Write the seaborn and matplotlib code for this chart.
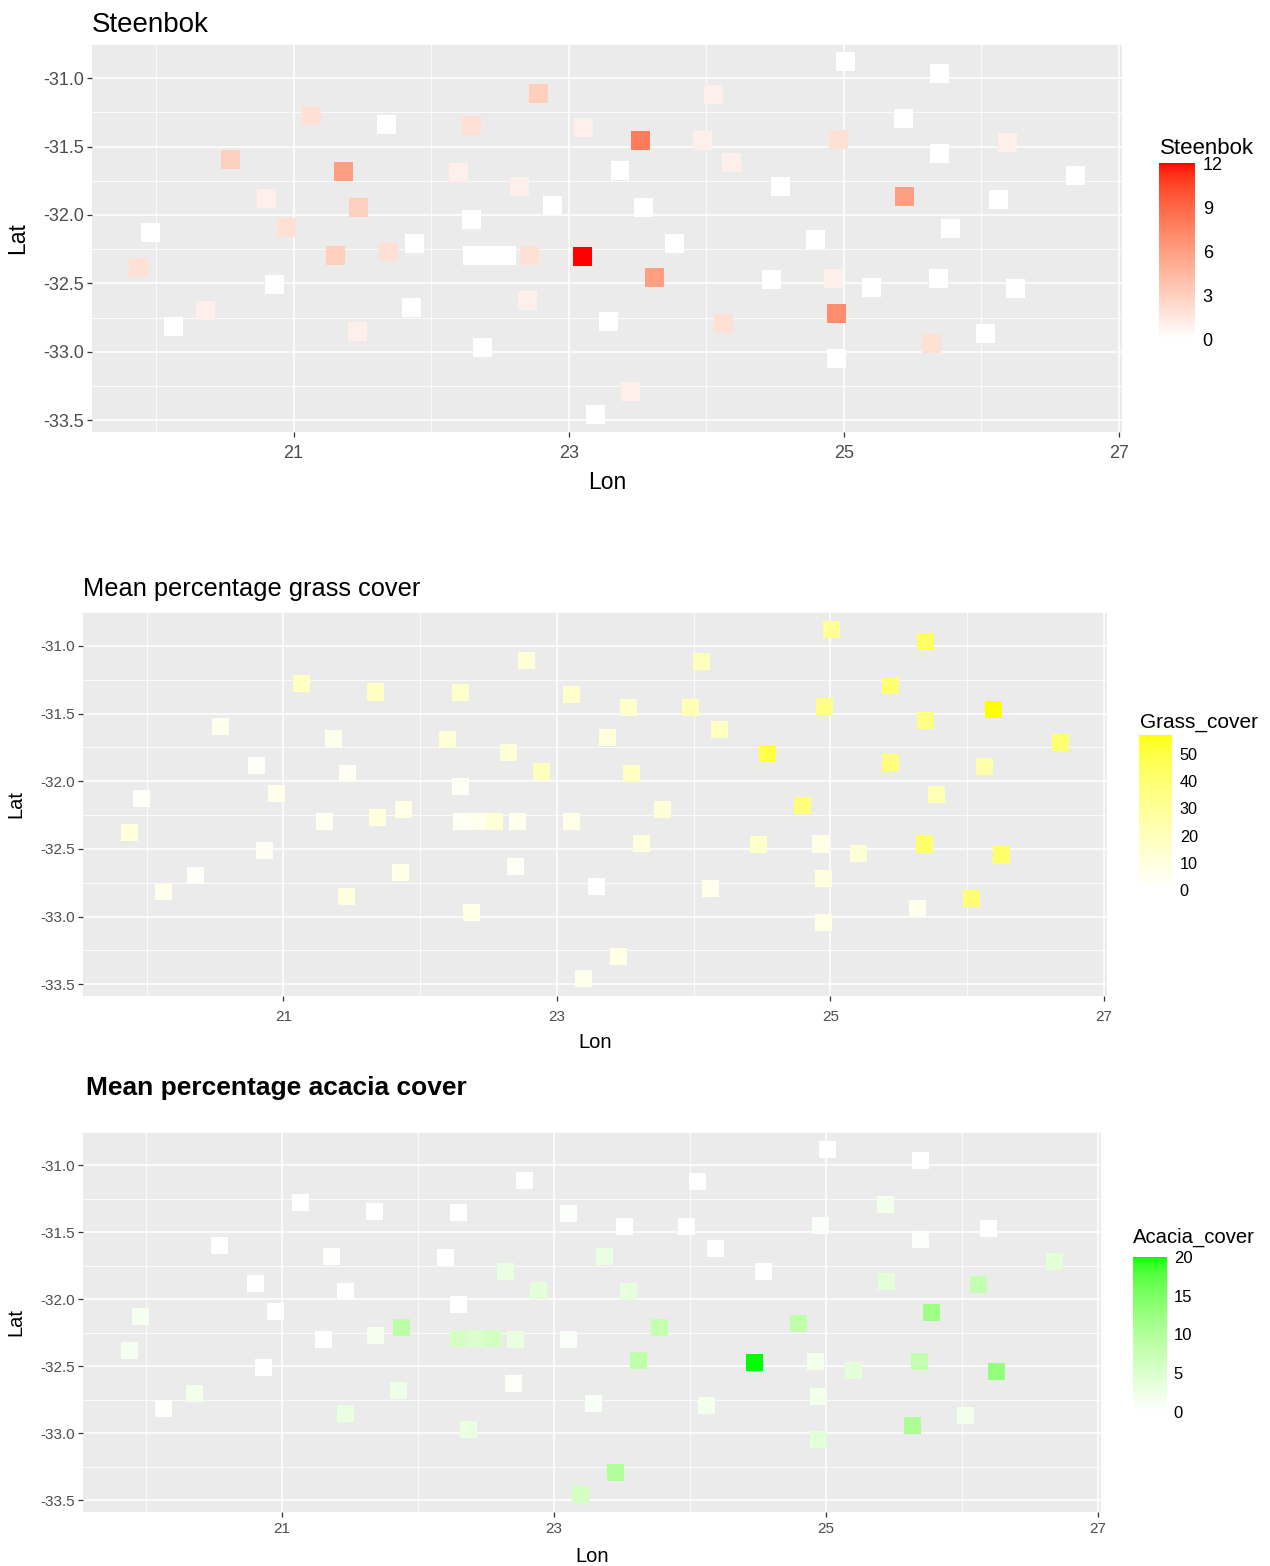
import numpy as np
import pandas as pd
import matplotlib
matplotlib.use("Agg")
import matplotlib.pyplot as plt
from matplotlib.colors import ListedColormap, Normalize
from matplotlib.cm import ScalarMappable
import seaborn as sns

# Survey sites (longitude / latitude) and the values recorded at each one
lon = [21.133, 21.677, 20.540, 21.365, 20.801, 21.469, 19.959, 20.951, 21.302, 21.689,
       21.878, 19.875, 20.864, 20.358, 20.124, 21.858, 21.462,
       22.780, 24.055, 22.294, 23.109, 23.520, 23.975, 22.202, 24.186, 23.373,
       22.644, 24.538, 22.884, 23.544, 22.294, 23.772,
       22.300, 22.430, 22.545, 22.713, 23.104, 23.622, 24.476, 22.700, 23.293,
       24.123, 22.372, 23.450, 23.196,
       25.010, 25.697, 25.436, 24.959, 26.193, 25.697, 26.682, 25.441, 26.123,
       25.777, 24.797, 24.926, 25.204, 25.688, 26.251, 24.948, 26.029, 25.637, 24.948]
lat = [-31.275, -31.341, -31.598, -31.681, -31.883, -31.944, -32.126, -32.092, -32.298, -32.269,
       -32.206, -32.381, -32.510, -32.700, -32.814, -32.678, -32.850,
       -31.109, -31.117, -31.348, -31.360, -31.452, -31.452, -31.689, -31.620, -31.678,
       -31.791, -31.795, -31.931, -31.944, -32.036, -32.206,
       -32.295, -32.295, -32.295, -32.296, -32.301, -32.459, -32.471, -32.629, -32.778,
       -32.790, -32.972, -33.293, -33.458,
       -30.879, -30.966, -31.292, -31.445, -31.470, -31.550, -31.715, -31.864, -31.888,
       -32.099, -32.182, -32.464, -32.532, -32.464, -32.539, -32.721, -32.867, -32.940, -33.047]
steenbok = [2, 0, 3, 6, 1, 3, 0, 2, 3, 2, 0, 2, 0, 1, 0, 0, 1,
            3, 1, 2, 1, 8, 1, 1, 1, 0, 1, 0, 0, 0, 0, 0,
            0, 0, 0, 2, 12, 6, 0, 1, 0, 2, 0, 1, 0,
            0, 0, 0, 2, 1, 0, 0, 6, 0, 0, 0, 1, 0, 0, 0, 7, 0, 2, 0]
grass_cover = [18, 18, 5, 5, 2, 3, 2, 6, 4, 10, 8, 10, 3, 2, 6, 8, 10,
               12, 20, 15, 15, 15, 22, 12, 18, 10, 12, 50, 20, 18, 3, 12,
               3, 5, 12, 5, 8, 10, 15, 3, 0, 5, 8, 8, 5,
               30, 45, 40, 35, 57, 35, 40, 38, 25, 22, 38, 8, 12, 42, 42, 10, 40, 5, 8]
acacia_cover = [0, 0, 0, 0.5, 0, 0, 1.5, 0, 0, 1.5, 9, 1.5, 0, 2, 0.5, 2.5, 3,
                0, 0, 0, 0.3, 0, 0, 0, 0, 3, 3, 0, 4, 3.5, 0, 8,
                6, 5, 6, 3, 1, 8.5, 20, 0.5, 1, 2, 3, 10, 6,
                0, 0, 2, 1, 0, 1, 4, 4, 8, 12, 8.5, 2, 4, 8, 13, 2, 2, 10.5, 4]

x_ticks = [21, 23, 25, 27]
y_ticks = [-33.5, -33.0, -32.5, -32.0, -31.5, -31.0]

df = pd.DataFrame({"Lon": lon, "Lat": lat, "Steenbok": steenbok,
                   "Grass_cover": grass_cover, "Acacia_cover": acacia_cover})

# ---- white -> colour ramps interpolated in CIELAB -------------------------
_M = np.array([[0.4124564, 0.3575761, 0.1804375],
               [0.2126729, 0.7151522, 0.0721750],
               [0.0193339, 0.1191920, 0.9503041]])
_Minv = np.linalg.inv(_M)
_WP = np.array([0.95047, 1.0, 1.08883])
_D = 6 / 29


def srgb_to_lab(c):
    c = np.asarray(c, float)
    lin = np.where(c <= 0.04045, c / 12.92, ((c + 0.055) / 1.055) ** 2.4)
    t = (_M @ lin) / _WP
    f = np.where(t > _D ** 3, np.cbrt(t), t / (3 * _D ** 2) + 4 / 29)
    return np.array([116 * f[1] - 16, 500 * (f[0] - f[1]), 200 * (f[1] - f[2])])


def lab_to_srgb(lab):
    L, a, b = lab[:, 0], lab[:, 1], lab[:, 2]
    fy = (L + 16) / 116
    fx = fy + a / 500
    fz = fy - b / 200

    def finv(f):
        return np.where(f > _D, f ** 3, 3 * _D ** 2 * (f - 4 / 29))

    xyz = np.stack([finv(fx) * _WP[0], finv(fy) * _WP[1], finv(fz) * _WP[2]], axis=1)
    lin = np.clip(xyz @ _Minv.T, 0, 1)
    rgb = np.where(lin <= 0.0031308, 12.92 * lin, 1.055 * lin ** (1 / 2.4) - 0.055)
    return np.clip(rgb, 0, 1)


def lab_gradient(high, n=256):
    lo = srgb_to_lab([1.0, 1.0, 1.0])
    hi = srgb_to_lab(high)
    t = np.linspace(0, 1, n)[:, None]
    return ListedColormap(lab_to_srgb(lo + t * (hi - lo)))


# ---- theme -------------------------------------------------------------
sns.set_theme(style="darkgrid", rc={
    "axes.facecolor": "#EBEBEB",
    "grid.color": "white",
    "axes.edgecolor": "#EBEBEB",
    "axes.unicode_minus": False,
})
plt.rcParams["font.family"] = ["Liberation Sans", "DejaVu Sans"]

W, H = 1270, 1566
fig = plt.figure(figsize=(W / 100, H / 100), dpi=100)


def rect(l, t, r, b):
    return [l / W, 1 - b / H, (r - l) / W, (b - t) / H]


def expand(v, frac=0.05):
    lo, hi = min(v), max(v)
    d = (hi - lo) * frac
    return lo - d, hi + d


xlim = expand(lon)
ylim = expand(lat)

panels = [
    dict(col="Steenbok", high=[1, 0, 0], vmax=12, cticks=[0, 3, 6, 9, 12],
         ax=(92, 44, 1122, 432), cax=(1159, 163, 1195, 339), s=187,
         title="Steenbok", tsize=20, tweight="normal", tpad=8.6, tx=0.0,
         tick=13, xpad=5.5, lab=16.5, ylab_x=-0.0718, xlab_y=-0.1314,
         ltitle_xy=(1160, 154), ltsize=16, llsize=13, lpad=5.5, tlen=5),
    dict(col="Grass_cover", high=[1, 1, 0], vmax=57, cticks=[0, 10, 20, 30, 40, 50],
         ax=(83, 612, 1107, 996), cax=(1139, 735, 1172, 890), s=150,
         title="Mean percentage grass cover", tsize=18.3, tweight="normal", tpad=11.5, tx=0.0,
         tick=11, xpad=6.8, lab=14.5, ylab_x=-0.0654, xlab_y=-0.1198,
         ltitle_xy=(1140, 728), ltsize=15, llsize=11.7, lpad=5.5, tlen=4.8),
    dict(col="Acacia_cover", high=[0, 1, 0], vmax=20, cticks=[0, 5, 10, 15, 20],
         ax=(83, 1132, 1101, 1512), cax=(1133, 1257, 1167, 1412), s=150,
         title="Mean percentage acacia cover", tsize=19, tweight="bold", tpad=26.3, tx=0.003,
         tick=11, xpad=4.0, lab=14.5, ylab_x=-0.0658, xlab_y=-0.1158,
         ltitle_xy=(1133, 1243), ltsize=14.6, llsize=12, lpad=4.8, tlen=4.8),
]

for p in panels:
    ax = fig.add_axes(rect(*p["ax"]))
    cmap = lab_gradient(p["high"])
    norm = Normalize(vmin=0, vmax=p["vmax"])

    sns.scatterplot(data=df, x="Lon", y="Lat", hue=p["col"], palette=cmap,
                    hue_norm=norm, marker="s", s=p["s"], linewidth=0,
                    legend=False, ax=ax, zorder=3)

    ax.set_xlim(*xlim)
    ax.set_ylim(*ylim)
    ax.set_xticks(x_ticks)
    ax.set_xticklabels([str(v) for v in x_ticks])
    ax.set_yticks(y_ticks)
    ax.set_yticklabels([f"{v:.1f}" for v in y_ticks])
    ax.set_xticks([20, 22, 24, 26], minor=True)
    ax.set_yticks([-33.25, -32.75, -32.25, -31.75, -31.25, -30.75], minor=True)
    ax.grid(which="major", color="white", linewidth=1.1)
    ax.grid(which="minor", color="white", linewidth=0.55)
    ax.tick_params(which="major", bottom=True, left=True, length=3.5, width=0.9,
                   color="#333333", labelcolor="#4D4D4D", labelsize=p["tick"], pad=2.5)
    ax.tick_params(axis="x", which="major", pad=p["xpad"])
    ax.tick_params(which="minor", length=0)
    for sp in ax.spines.values():
        sp.set_visible(False)

    ax.set_xlabel("Lon", fontsize=p["lab"], color="black", va="center")
    ax.set_ylabel("Lat", fontsize=p["lab"], color="black", va="center")
    ax.xaxis.set_label_coords(0.5, p["xlab_y"])
    ax.yaxis.set_label_coords(p["ylab_x"], 0.5)

    ax.set_title(p["title"], loc="left", fontsize=p["tsize"], fontweight=p["tweight"],
                 pad=p["tpad"], color="black", x=p["tx"])

    # colour bar legend
    cax = fig.add_axes(rect(*p["cax"]))
    cb = fig.colorbar(ScalarMappable(norm=norm, cmap=cmap), cax=cax)
    cb.outline.set_visible(False)
    cax.grid(False)
    cb.set_ticks(p["cticks"])
    cb.set_ticklabels([str(v) for v in p["cticks"]])
    cax.tick_params(axis="y", direction="in", length=p["tlen"], width=0.9,
                    color="white", left=True, right=True, labelleft=False,
                    labelright=True, labelsize=p["llsize"], labelcolor="black",
                    pad=p["lpad"])
    lx, ly = p["ltitle_xy"]
    fig.text(lx / W, 1 - ly / H, p["col"], fontsize=p["ltsize"], ha="left",
             va="baseline", color="black")

fig.savefig("out.png", dpi=100, facecolor="white")
